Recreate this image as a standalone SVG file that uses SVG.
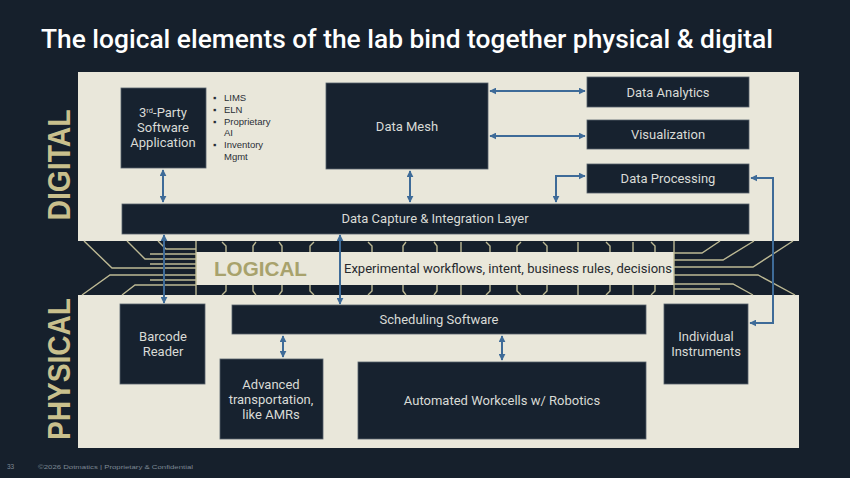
<svg xmlns="http://www.w3.org/2000/svg" width="850" height="478" viewBox="0 0 850 478">
<defs>
<style>
.panel{fill:#e9e7da}
.box{fill:#17222f;stroke:#55606a;stroke-width:0.8}
.bt{font-family:Roboto,"Liberation Sans",sans-serif;font-size:13px;fill:#d9dbd6;text-anchor:middle}
.con{fill:none;stroke:#3e6b98;stroke-width:2;marker-start:url(#ah);marker-end:url(#ah)}
.trace{fill:none;stroke:#bdb994;stroke-width:1.4}
.side{font-family:"Liberation Sans",Arial,sans-serif;font-weight:bold;font-size:31px;fill:#c9c08d}
.bul{font-family:"Liberation Sans",Arial,sans-serif;font-size:9.5px;fill:#2a2f36}
</style>
<marker id="ah" viewBox="0 0 10 10" refX="9" refY="5" markerWidth="7" markerHeight="7" markerUnits="userSpaceOnUse" orient="auto-start-reverse">
<path d="M0,0 L10,5 L0,10 z" fill="#3e6b98"/>
</marker>
</defs>
<rect x="0" y="0" width="850" height="478" fill="#16202c"/>
<text x="41" y="48" font-family="Roboto,'Liberation Sans',sans-serif" font-size="26" font-weight="500" fill="#ffffff" textLength="732" lengthAdjust="spacingAndGlyphs">The logical elements of the lab bind together physical &amp; digital</text>

<g id="digital-panel">
<rect class="panel" x="78" y="72" width="721" height="169"/>
<text class="side" transform="translate(70,165) rotate(-90)" text-anchor="middle" textLength="111" lengthAdjust="spacingAndGlyphs">DIGITAL</text>
</g>
<g id="physical-panel">
<rect class="panel" x="78" y="295" width="721" height="153"/>
<text class="side" transform="translate(70,369) rotate(-90)" text-anchor="middle" textLength="142" lengthAdjust="spacingAndGlyphs">PHYSICAL</text>
</g>

<g id="logical-band">
<rect x="78" y="241" width="721" height="54" fill="#16202c"/>
<rect x="196" y="252" width="478" height="33" fill="#e9e7da"/>
<line class="trace" x1="196" y1="241" x2="196" y2="295"/>
<line class="trace" x1="674" y1="241" x2="674" y2="295"/>
<path class="trace" d="M84,241 L112,268 H196 M127,241 L145,259 H196 M158,241 L166,249 H196 M150,254 H196 M150,264 H196 M82,295 L110,275 H196 M122,295 L135,285 H196 M150,280 H196"/>
<path class="trace" d="M674,253 H702 L720,241 M674,260 H723 L754,241 M674,267 H753 L793,241 M674,275 H758 L795,295 M674,284 H733 L753,295 M674,289 H720"/>
<path class="trace" d="M222,242 L226,246 V252 M226,285 V291 L222,295 M256,242 L253,246 V252 M253,285 V291 L256,295 M279,242 L282,246 V252 M282,285 V291 L279,295 M314,242 L310,246 V252 M310,285 V291 L314,295 M368,242 L372,246 V252 M372,285 V291 L368,295 M406,242 L403,246 V252 M403,285 V291 L406,295 M434,242 L437,246 V252 M437,285 V291 L434,295 M461,242 V252 M461,285 V295 M486,242 L490,246 V252 M490,285 V291 L486,295 M521,242 L517,246 V252 M517,285 V291 L521,295 M543,242 L547,246 V252 M547,285 V291 L543,295 M578,242 V252 M578,285 V295 M606,242 L610,246 V252 M610,285 V291 L606,295 M633,242 V252 M633,285 V295 M651,242 L655,246 V252 M655,285 V291 L651,295"/>
<text x="214" y="276" font-family="'Liberation Sans',Arial,sans-serif" font-weight="bold" font-size="20" fill="#a8a26c" textLength="93" lengthAdjust="spacingAndGlyphs">LOGICAL</text>
<text x="344" y="273" font-family="Roboto,'Liberation Sans',sans-serif" font-size="12.5" fill="#26292e" textLength="328" lengthAdjust="spacingAndGlyphs">Experimental workflows, intent, business rules, decisions</text>
</g>

<g id="third-party">
<rect class="box" x="121" y="88" width="85" height="80"/>
<text class="bt" x="163" y="117">3<tspan font-size="7.5" dy="-4">rd</tspan><tspan dy="4">-Party</tspan></text>
<text class="bt" x="163" y="132">Software</text>
<text class="bt" x="163" y="147">Application</text>
</g>
<g id="app-list">
<text class="bul" x="213" y="101">▪</text><text class="bul" x="224" y="101">LIMS</text>
<text class="bul" x="213" y="113">▪</text><text class="bul" x="224" y="113">ELN</text>
<text class="bul" x="213" y="125">▪</text><text class="bul" x="224" y="125">Proprietary</text>
<text class="bul" x="224" y="136">AI</text>
<text class="bul" x="213" y="148">▪</text><text class="bul" x="224" y="148">Inventory</text>
<text class="bul" x="224" y="160">Mgmt</text>
</g>
<g id="data-mesh">
<rect class="box" x="326" y="83" width="162" height="86"/>
<text class="bt" x="407" y="131">Data Mesh</text>
</g>
<g id="data-analytics">
<rect class="box" x="587" y="77" width="162" height="30"/>
<text class="bt" x="668" y="97">Data Analytics</text>
</g>
<g id="visualization">
<rect class="box" x="587" y="120" width="162" height="29"/>
<text class="bt" x="668" y="139">Visualization</text>
</g>
<g id="data-processing">
<rect class="box" x="587" y="164" width="162" height="29"/>
<text class="bt" x="668" y="183">Data Processing</text>
</g>
<g id="data-capture">
<rect class="box" x="122" y="204" width="627" height="30"/>
<text class="bt" x="435" y="223">Data Capture &amp; Integration Layer</text>
</g>
<g id="barcode-reader">
<rect class="box" x="120" y="304" width="85" height="80"/>
<text class="bt" x="163" y="341">Barcode</text>
<text class="bt" x="163" y="356">Reader</text>
</g>
<g id="scheduling">
<rect class="box" x="232" y="305" width="414" height="29"/>
<text class="bt" x="439" y="324">Scheduling Software</text>
</g>
<g id="advanced-transport">
<rect class="box" x="220" y="359" width="103" height="80"/>
<text class="bt" x="271" y="389">Advanced</text>
<text class="bt" x="271" y="404">transportation,</text>
<text class="bt" x="271" y="419">like AMRs</text>
</g>
<g id="workcells">
<rect class="box" x="358" y="362" width="288" height="77"/>
<text class="bt" x="502" y="405">Automated Workcells w/ Robotics</text>
</g>
<g id="instruments">
<rect class="box" x="664" y="304" width="84" height="80"/>
<text class="bt" x="706" y="341">Individual</text>
<text class="bt" x="706" y="356">Instruments</text>
</g>

<g id="connectors">
<path class="con" d="M163,170 V202"/>
<path class="con" d="M410,171 V202"/>
<path class="con" d="M490,91 H585"/>
<path class="con" d="M490,136 H585"/>
<path class="con" d="M556,202 V176 H585"/>
<path class="con" d="M751,178 H773 V323 H750"/>
<path class="con" d="M164,235 V303"/>
<path class="con" d="M340,235 V304"/>
<path class="con" d="M283,336 V357"/>
<path class="con" d="M502,336 V360"/>
</g>

<g id="footer" font-family="'Liberation Sans',Arial,sans-serif" fill="#7d8894">
<text x="7" y="469" font-size="6.5">33</text>
<text x="38" y="469" font-size="5.5" textLength="155" lengthAdjust="spacingAndGlyphs">©2026 Dotmatics  |  Proprietary &amp; Confidential</text>
</g>
</svg>
